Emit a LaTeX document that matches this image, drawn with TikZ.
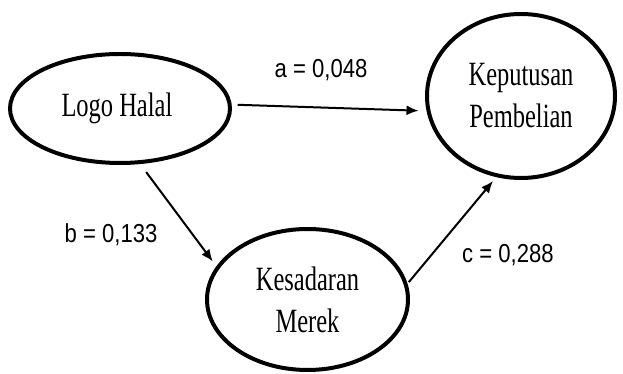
\documentclass[tikz,border=0pt]{standalone}
\usepackage{fontspec}
\usetikzlibrary{arrows.meta,shapes.geometric}
\newfontfamily\nodefont[FakeStretch=0.72]{Liberation Serif}
\newfontfamily\labelfont[FakeStretch=0.85]{Liberation Sans}

\begin{document}
\begin{tikzpicture}[x=1pt,y=1pt,
var/.style={ellipse, draw=black, line width=4pt, align=center, inner sep=0pt,
font=\nodefont\fontsize{34}{42}\selectfont},
coef/.style={anchor=base, inner sep=0pt, font=\labelfont\fontsize{26}{30}\selectfont},
effect/.style={-{Latex[length=12pt,width=10pt]}, line width=2pt}]

\useasboundingbox (0,0) rectangle (623,374);

%\node[var] at (0,0) (x) {};

\node[var, minimum width=220pt, minimum height=109pt] at (120, 265.5) (logo) {
Logo Halal
};

\node[var, minimum width=188pt, minimum height=164pt] at (521, 278) (keputusan) {
Keputusan\\
Pembelian
};

\node[var, minimum width=201pt, minimum height=141pt] at (307.5, 74.5) (kesadaran) {
Kesadaran\\
Merek
};


\node[coef] at (321, 296) (a) {a = 0,048};
\node[coef] at (111, 131) (b) {b = 0,133};
\node[coef] at (508, 111) (c) {c = 0,288};


\draw[effect, shorten <=6pt, shorten >=8pt] (logo.2) -- (keputusan.189);
\draw[effect, shorten <=10pt, shorten >=6pt] (logo.-70) -- (kesadaran.160);
\draw[effect, shorten <=2pt, shorten >=5pt] (kesadaran.9) -- (keputusan.253);


\end{tikzpicture}
\end{document}
